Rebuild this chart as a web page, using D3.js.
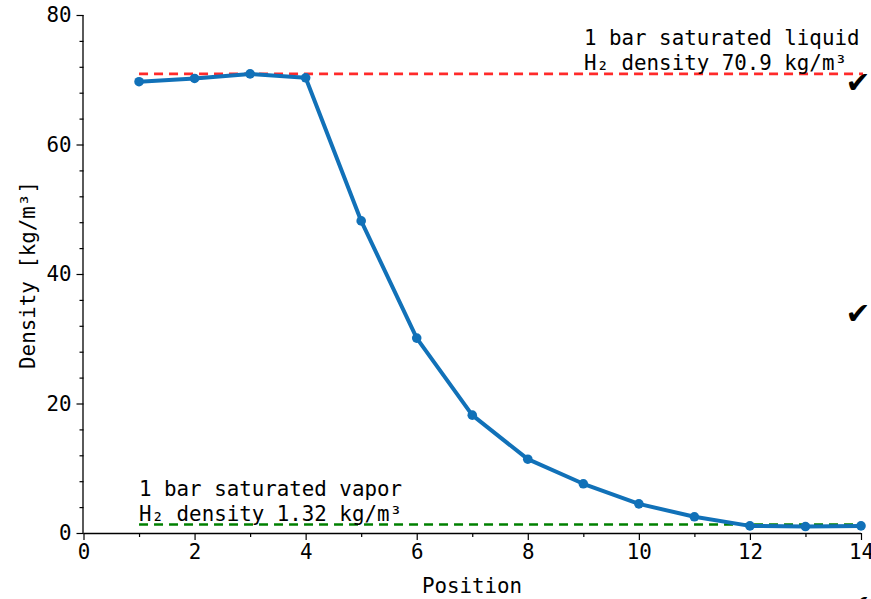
<!DOCTYPE html>
<html><head><meta charset="utf-8">
<script src="https://cdn.jsdelivr.net/npm/d3@7"></script>
<style>body{margin:0;background:#fff}svg{display:block}text{font-family:"DejaVu Sans Mono",monospace}</style>
</head><body><svg id="c" width="871" height="599"></svg>
<script>
const positions = [1,2,3,4,5,6,7,8,9,10,11,12,13,14];
const density = [69.7,70.2,70.9,70.3,48.2,30.1,18.2,11.4,7.6,4.5,2.5,1.1,1.0,1.1];
const liquidDensity = 70.9;
const vaporDensity = 1.32;
const xTicks = [0,2,4,6,8,10,12,14];
const yTicks = [0,20,40,60,80];
const liquidLabel = ["1 bar saturated liquid","H\u2082 density 70.9 kg/m\u00b3"];
const vaporLabel = ["1 bar saturated vapor","H\u2082 density 1.32 kg/m\u00b3"];

const svg = d3.select("#c");
const x = d3.scaleLinear().domain([0,14]).range([83.5,861]);
const y = d3.scaleLinear().domain([0,80]).range([533,15]);
const fs = 20.8;

// axes
const xAxis = svg.append("g").attr("transform","translate(0,533)")
  .call(d3.axisBottom(x).tickValues(xTicks).tickSize(7).tickPadding(4));
svg.append("g").attr("transform","translate(0,533)")
  .call(d3.axisBottom(x).tickValues(d3.range(1,14,2)).tickSize(4).tickFormat(""))
  .select(".domain").remove();
const yAxis = svg.append("g").attr("transform","translate(83.5,0)")
  .call(d3.axisLeft(y).tickValues(yTicks).tickSize(7).tickPadding(5));
svg.append("g").attr("transform","translate(83.5,0)")
  .call(d3.axisLeft(y).tickValues(d3.range(0,81,4).filter(v=>v%20)).tickSize(4).tickFormat(""))
  .select(".domain").remove();
svg.selectAll(".domain").attr("stroke","#000").attr("stroke-width",1.3);
xAxis.select(".domain").attr("d","M83.5,0.5H861");
yAxis.select(".domain").attr("d","M-0.5,533H-0.5V15");
svg.selectAll(".tick line").attr("stroke","#000").attr("stroke-width",1.2);
svg.selectAll(".tick text").attr("font-size",fs).attr("fill","#000").attr("font-family","DejaVu Sans Mono");

// reference lines
svg.append("line").attr("x1",x(1)).attr("x2",x(14)+2).attr("y1",y(liquidDensity)).attr("y2",y(liquidDensity))
  .attr("stroke","#ff2a2a").attr("stroke-width",2.6).attr("stroke-dasharray","9,6");
svg.append("line").attr("x1",x(1)).attr("x2",x(14)+2).attr("y1",y(vaporDensity)).attr("y2",y(vaporDensity))
  .attr("stroke","#008000").attr("stroke-width",2.4).attr("stroke-dasharray","9,6");

// data line
const blue = "#1171b8";
const line = d3.line().x((d,i)=>x(positions[i])).y(d=>y(d));
svg.append("path").datum(density).attr("d",line).attr("fill","none")
  .attr("stroke",blue).attr("stroke-width",4).attr("stroke-linejoin","round");
svg.selectAll("circle.pt").data(density).enter().append("circle").attr("class","pt")
  .attr("cx",(d,i)=>x(positions[i])).attr("cy",d=>y(d)).attr("r",4.8).attr("fill",blue);

// annotations
const lt = svg.append("text").attr("font-size",fs).attr("text-anchor","start").attr("fill","#000");
liquidLabel.forEach((s,i)=>lt.append("tspan").attr("x",584).attr("y",45+i*25).text(s));
const vt = svg.append("text").attr("font-size",fs).attr("text-anchor","start").attr("fill","#000");
vaporLabel.forEach((s,i)=>vt.append("tspan").attr("x",x(1)).attr("y",496+i*24.5).text(s));

// axis labels
svg.append("text").attr("x",472).attr("y",593).attr("text-anchor","middle").attr("font-size",fs).text("Position");
svg.append("text").attr("transform","translate(35,275) rotate(-90)").attr("text-anchor","middle").attr("font-size",fs).text("Density [kg/m\u00b3]");

// check marks at right edge
[[858,92],[858,323],[858,615]].forEach(([cx,cy])=>{
  svg.append("text").attr("x",cx).attr("y",cy).attr("text-anchor","middle").attr("font-size",34)
    .attr("font-family","DejaVu Sans").attr("fill","#000").text("\u2714");
});
</script></body></html>
